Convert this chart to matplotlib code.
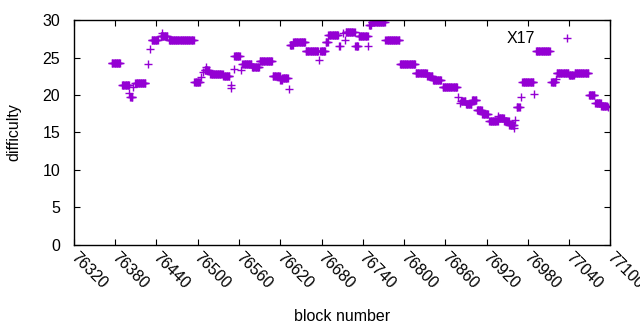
import numpy as np
import matplotlib
matplotlib.use("Agg")
import matplotlib.pyplot as plt
from matplotlib.transforms import ScaledTranslation

# runs of consecutive blocks at the same difficulty: start block, end block, value
run_start = [76375, 76390, 76402, 76409, 76433, 76446, 76458, 76495, 76510, 76518,
             76537, 76553, 76565, 76579, 76590, 76609, 76620, 76623, 76634, 76639,
             76657, 76678, 76686, 76690, 76715, 76729, 76734, 76749, 76753, 76773,
             76794, 76817, 76834, 76842, 76856, 76883, 76890, 76899, 76906, 76914,
             76924, 76937, 76946, 76953, 76964, 76972, 76992, 77015, 77022, 77040,
             77048, 77069, 77078, 77087]
run_end = [76387, 76400, 76405, 76424, 76442, 76456, 76494, 76503, 76516, 76536,
           76546, 76561, 76578, 76589, 76608, 76619, 76622, 76631, 76638, 76656,
           76675, 76685, 76689, 76704, 76728, 76733, 76747, 76752, 76772, 76793,
           76816, 76833, 76841, 76854, 76877, 76889, 76898, 76905, 76913, 76922,
           76936, 76945, 76952, 76960, 76968, 76988, 77012, 77020, 77039, 77047,
           77068, 77077, 77086, 77095]
run_value = [24.3, 21.4, 19.8, 21.6, 27.4, 27.9, 27.4, 21.7, 23.3, 22.8,
             22.6, 25.2, 24.1, 23.7, 24.6, 22.5, 22.0, 22.3, 26.7, 27.1,
             25.9, 25.9, 27.1, 28.0, 28.4, 26.5, 27.9, 29.4, 29.8, 27.3,
             24.1, 22.9, 22.6, 22.0, 21.1, 19.2, 18.8, 19.3, 18.0, 17.5,
             16.5, 16.9, 16.5, 16.0, 18.4, 21.7, 25.9, 21.7, 23.0, 22.7,
             22.9, 20.0, 18.9, 18.6]

# single blocks off the runs
single_block = [76400, 76406, 76427, 76430, 76448, 76504, 76507, 76512, 76548, 76549,
                76552, 76563, 76632, 76677, 76705, 76707, 76711, 76714, 76748, 76878,
                76882, 76937, 76960, 76962, 76970, 76989, 77014, 77021, 77096]
single_value = [20.3, 21.1, 24.2, 26.1, 28.3, 22.4, 23.1, 23.7, 21.3, 21.0,
                23.5, 23.3, 20.8, 24.7, 26.5, 26.5, 28.3, 27.4, 26.5, 19.7,
                18.9, 17.2, 15.6, 16.7, 19.7, 20.2, 21.8, 22.2, 18.4]

xticks = list(range(76320, 77101, 60))
yticks = [0, 5, 10, 15, 20, 25, 30]

blocks = []
diffs = []
for s, e, v in zip(run_start, run_end, run_value):
    for b in range(s, e + 1):
        blocks.append(b)
        diffs.append(v)
blocks += single_block
diffs += single_value

plt.rcParams['font.family'] = ['Liberation Sans', 'DejaVu Sans']
plt.rcParams['font.size'] = 11.5

fig = plt.figure(figsize=(6.4, 3.3), dpi=100)
ax = fig.add_axes([0.1156, 0.258, 0.838, 0.681])

ax.plot(blocks, diffs, linestyle='none', marker='+', markersize=5.5,
        markeredgewidth=1.0, color='#9400d3', label='X17')

ax.set_xlim(76320, 77100)
ax.set_ylim(0, 30)
ax.set_xticks(xticks)
ax.set_yticks(yticks)
ax.set_xticklabels([str(t) for t in xticks], rotation=-45, ha='left', va='top',
                   rotation_mode='anchor')
ax.tick_params(direction='in', length=4, width=0.8, top=True, right=True)
ax.tick_params(axis='y', pad=10)
ax.tick_params(axis='x', pad=3.5)
shift = ScaledTranslation(3 / 72, 0, fig.dpi_scale_trans)
for lab in ax.get_xticklabels():
    lab.set_transform(lab.get_transform() + shift)
for sp in ax.spines.values():
    sp.set_linewidth(1.0)

ax.set_xlabel('block number', labelpad=12)
ax.set_ylabel('difficulty', labelpad=15)

ax.legend(loc='upper right', bbox_to_anchor=(0.985, 1.0), frameon=False,
          markerfirst=False, numpoints=1, handlelength=3.0, handletextpad=0.5,
          borderaxespad=0.3)

fig.savefig('out.png', dpi=100)
